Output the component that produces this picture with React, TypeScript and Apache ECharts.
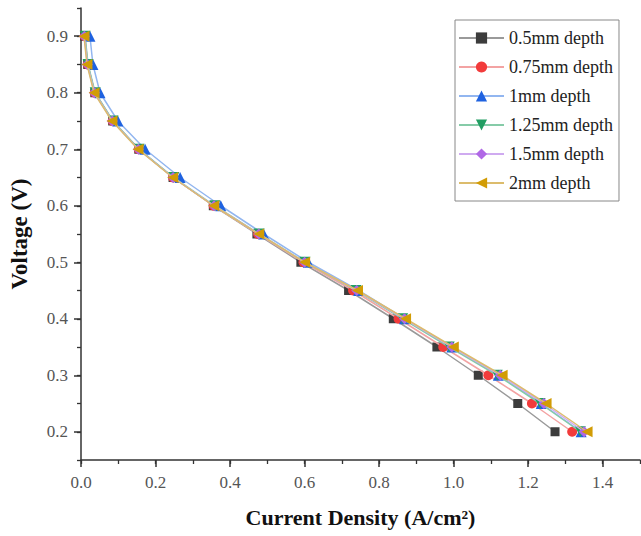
import React, { useEffect, useRef } from "react";
import * as echarts from "echarts";

const VOLTAGE = [0.9, 0.85, 0.8, 0.75, 0.7, 0.65, 0.6, 0.55, 0.5, 0.45, 0.4, 0.35, 0.3, 0.25, 0.2];

const CD_05 = [0.01, 0.018, 0.037, 0.085, 0.155, 0.247, 0.355, 0.472, 0.59, 0.718, 0.838, 0.955, 1.066, 1.172, 1.272];
const CD_075 = [0.01, 0.018, 0.037, 0.085, 0.155, 0.247, 0.356, 0.475, 0.597, 0.73, 0.852, 0.972, 1.093, 1.21, 1.318];
const CD_1 = [0.024, 0.032, 0.051, 0.099, 0.172, 0.266, 0.375, 0.49, 0.61, 0.745, 0.868, 0.995, 1.12, 1.235, 1.342];
const CD_125 = [0.011, 0.019, 0.038, 0.086, 0.156, 0.249, 0.359, 0.478, 0.601, 0.738, 0.863, 0.988, 1.117, 1.232, 1.34];
const CD_15 = [0.009, 0.017, 0.036, 0.084, 0.154, 0.247, 0.357, 0.477, 0.6, 0.74, 0.868, 0.995, 1.125, 1.242, 1.35];
const CD_2 = [0.008, 0.016, 0.035, 0.083, 0.153, 0.246, 0.356, 0.477, 0.6, 0.742, 0.871, 0.999, 1.13, 1.248, 1.358];

const NAMES = ["0.5mm depth", "0.75mm depth", "1mm depth", "1.25mm depth", "1.5mm depth", "2mm depth"];

const X_TICKS = [0, 0.2, 0.4, 0.6, 0.8, 1.0, 1.2, 1.4];
const Y_TICKS = [0.2, 0.3, 0.4, 0.5, 0.6, 0.7, 0.8, 0.9];

const SERIF = '"Liberation Serif", "Times New Roman", serif';

export default function App() {
  const ref = useRef<HTMLDivElement>(null);
  useEffect(() => {
    if (!ref.current) return;
    const chart = echarts.init(ref.current, null, { renderer: "svg" });
    const all = [CD_05, CD_075, CD_1, CD_125, CD_15, CD_2];
    const markerColors = ["#3c3c3c", "#f23b3b", "#1f62e0", "#229e63", "#b068e6", "#d29c05"];
    const lineColors = ["#9a9a9a", "#f3a3a3", "#92b6f0", "#86cba8", "#cfaaf0", "#dcbc6c"];
    const symbols = ["rect", "circle", "triangle", "triangle", "diamond", "triangle"];
    const rotates = [0, 0, 0, 180, 0, 90];
    const sizes = [9, 10, 11, 11, 11, 11];
    const series = all.map((arr, i) => ({
      type: "line",
      name: NAMES[i],
      xAxisIndex: 0,
      yAxisIndex: 0,
      data: arr.map((x, j) => [x, VOLTAGE[j]]),
      symbol: symbols[i],
      symbolRotate: rotates[i],
      symbolSize: sizes[i],
      showAllSymbol: true,
      itemStyle: { color: markerColors[i], opacity: 1 },
      lineStyle: { color: lineColors[i], width: 1.5 },
      z: 2 + i,
    }));
    chart.setOption({
      animation: false,
      grid: { left: 80, top: 8, right: 1, bottom: 76, containLabel: false },
      legend: {
        orient: "vertical",
        left: 455,
        top: 20,
        borderColor: "#888",
        borderWidth: 1,
        padding: [9, 6, 9, 3],
        itemWidth: 45,
        itemHeight: 14,
        itemGap: 11,
        textStyle: { fontFamily: SERIF, fontSize: 18, color: "#222" },
        data: NAMES,
      },
      xAxis: [
        {
          type: "value",
          position: "bottom",
          min: 0,
          max: 1.5,
          name: "Current Density (A/cm²)",
          nameLocation: "middle",
          nameGap: 46,
          nameTextStyle: { fontFamily: SERIF, fontSize: 22, fontWeight: "bold", color: "#111" },
          axisLine: { show: true, lineStyle: { color: "#333", width: 1.5 } },
          axisTick: { show: true, customValues: X_TICKS, length: 7, lineStyle: { color: "#333", width: 1.5 } },
          axisLabel: {
            customValues: X_TICKS,
            formatter: (v: number) => v.toFixed(1),
            fontFamily: SERIF,
            fontSize: 17,
            color: "#555",
            margin: 14,
          },
          splitLine: { show: false },
        },
        {
          type: "value",
          position: "bottom",
          min: 0,
          max: 1.5,
          interval: 0.1,
          axisLine: { show: false },
          axisTick: { show: true, length: 4, lineStyle: { color: "#333", width: 1.3 } },
          axisLabel: { show: false },
          splitLine: { show: false },
        },
      ],
      yAxis: [
        {
          type: "value",
          position: "left",
          min: 0.15,
          max: 0.95,
          name: "Voltage (V)",
          nameLocation: "middle",
          nameGap: 50,
          nameTextStyle: { fontFamily: SERIF, fontSize: 23, fontWeight: "bold", color: "#111" },
          axisLine: { show: true, lineStyle: { color: "#333", width: 1.5 } },
          axisTick: { show: true, customValues: Y_TICKS, length: 7, lineStyle: { color: "#333", width: 1.5 } },
          axisLabel: {
            customValues: Y_TICKS,
            formatter: (v: number) => v.toFixed(1),
            fontFamily: SERIF,
            fontSize: 17,
            color: "#555",
            margin: 13,
          },
          splitLine: { show: false },
        },
        {
          type: "value",
          position: "left",
          min: 0.15,
          max: 0.95,
          interval: 0.05,
          axisLine: { show: false },
          axisTick: { show: true, length: 4, lineStyle: { color: "#333", width: 1.3 } },
          axisLabel: { show: false },
          splitLine: { show: false },
        },
      ],
      series,
    });
    return () => chart.dispose();
  }, []);
  return (
    <div
      ref={ref}
      style={{ position: "absolute", left: 0, top: 0, width: 641, height: 536, background: "#fff" }}
    />
  );
}
